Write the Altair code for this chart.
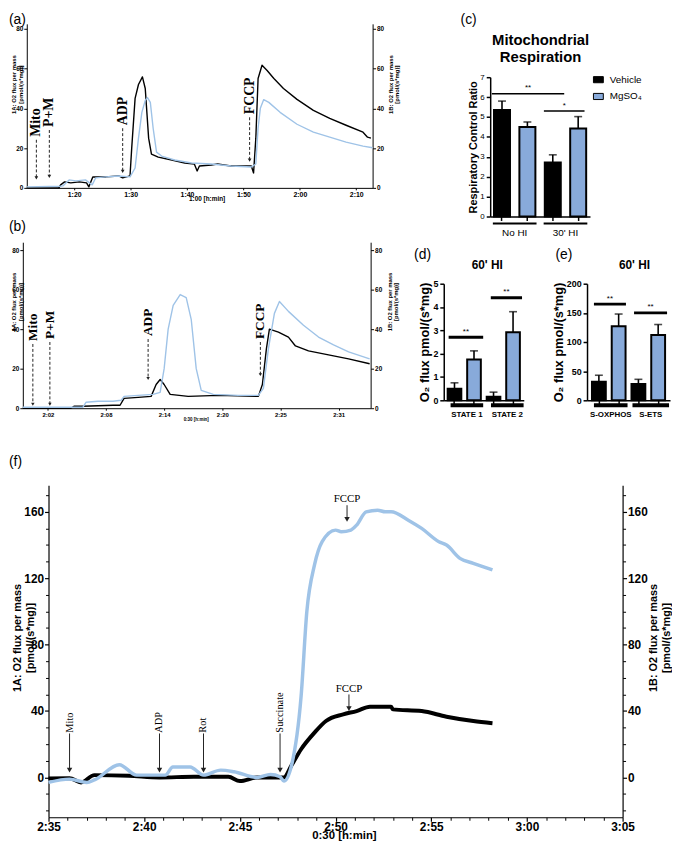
import altair as alt
import pandas as pd

W, H, M = 672, 836, 8
SANS = "Liberation Sans"
SERIF = "Liberation Serif"
LINE_BLUE = "#9fc3e7"
BAR_BLUE = "#88aada"

# ---------------- data: panel (a) ----------------
a_black_t = [71.6, 75, 77.3, 77.6, 78.3, 79.4, 80.9, 82.2, 82.6, 83.3, 85.6, 87.9, 88.6, 89.9, 90.2, 90.8,
             91.4, 92.1, 92.6, 93.2, 93.7, 94.9, 97.3, 99.6, 101.3, 101.8, 102.2, 104.3, 105.4, 107.8, 110.1,
             111.4, 111.8, 112.2, 112.6, 113.3, 114.2, 115.4, 117.1, 119.5, 122.4, 125.3, 128.2, 131.2, 132.0, 132.6]
a_black_v = [0, 0, 0, 1.5, 3, 2.5, 3, 2.5, 0.5, 5.5, 5.5, 6, 5, 6, 20, 45,
             52, 55.8, 50, 25, 17, 15.5, 14, 12.5, 12, 8.5, 11, 11.5, 12, 11, 11,
             11, 7.5, 25, 55, 61.7, 59, 55, 50, 44.5, 39, 35, 31.5, 28, 25.5, 25]
a_blue_t = [71.6, 77.5, 78, 79.1, 80.3, 82, 83.2, 83.8, 85.6, 87.9, 89.9, 90.8, 91.4, 92, 92.6, 93, 93.5,
            94, 94.6, 95.5, 97.8, 100.8, 104.3, 107.8, 111.4, 112.2, 112.6, 113, 113.6, 114.5, 116.5, 119.5,
            122.4, 125.3, 128.2, 131.2, 132.9]
a_blue_v = [0.5, 0.8, 1, 4, 3.5, 4, 1.5, 5, 5.5, 6, 5.5, 10, 25, 38, 44, 45.4, 43,
            30, 18, 16, 14, 12.5, 12, 11, 10.5, 12, 30, 40, 44.4, 43, 38, 32,
            28, 25.5, 23, 21, 20.2]
a_tick_values = [80, 90, 100, 110, 120, 130]
a_ann_labels = ["Mito", "P+M", "ADP", "FCCP"]
a_ann_t = [73.3, 75.6, 88.6, 111.1]
a_ann_text_v = [25.7, 30.6, 31.5, 37]
a_ann_tip_v = [5, 5.8, 8.3, 14]

# ---------------- data: panel (b) ----------------
b_black_t = [119.5, 124.3, 124.6, 125.5, 128.5, 129.2, 129.6, 131, 132.3, 132.8, 133.2, 133.6, 134.2, 136,
             139, 143, 143.4, 143.8, 144.1, 145, 146, 146.7, 148, 150, 152, 154.1]
b_black_v = [0, 0, 1, 1, 1.5, 1.5, 5, 5.5, 6, 12, 14.5, 12, 7, 6,
             6.5, 6, 12, 30, 40, 38.5, 36, 31.5, 29, 27, 25, 22.5]
b_blue_t = [119.5, 125.5, 125.8, 127, 128.5, 129.3, 129.6, 131, 132.5, 133.2, 133.6, 134, 134.5, 135.2,
            135.8, 136.3, 136.8, 137.3, 138.5, 141, 143, 143.5, 144, 144.6, 145.1, 146, 147.5, 149, 150.5,
            152, 154.1]
b_blue_v = [0.5, 0.5, 3, 3.5, 3.5, 4, 6, 6.5, 7, 8, 20, 40, 52, 57.5,
            56, 45, 20, 9, 7, 6.5, 6.5, 10, 30, 48, 54, 49, 42, 36, 32,
            28.5, 25]
b_tick_values = [122, 127.8, 133.6, 139.4, 145.2, 151.0]
b_tick_labels = ["2:02", "2:08", "2:14", "2:20", "2:25", "2:31"]
b_ann_labels = ["Mito", "P+M", "ADP", "FCCP"]
b_ann_t = [120.5, 122.2, 132.0, 143.2]
b_ann_text_v = [34, 35, 36.5, 35]
b_ann_tip_v = [2, 2, 15, 17]

# ---------------- data: panel (c) ----------------
c_groups = ["No HI", "30' HI"]
c_treat = ["Vehicle", "MgSO₄"]
c_mean = [5.35, 4.5, 2.72, 4.42]
c_sem = [0.45, 0.25, 0.38, 0.6]
c_sig_text = ["**", "*"]
c_sig_level = [6.17, 5.3]

# ---------------- data: panel (d) ----------------
d_groups = ["STATE 1", "STATE 2"]
d_mean = [0.5, 1.75, 0.15, 2.92]
d_sem = [0.25, 0.37, 0.2, 0.88]
d_sig_text = ["**", "**"]
d_sig_level = [2.7, 4.4]

# ---------------- data: panel (e) ----------------
e_groups = ["S-OXPHOS", "S-ETS"]
e_mean = [32, 127, 28, 112]
e_sem = [11, 21, 8, 18]
e_sig_text = ["**", "**"]
e_sig_level = [165, 150]

# ---------------- data: panel (f) ----------------
f_blue_t = [155, 156.1, 157, 157.4, 158.7, 159.6, 160.8, 161.1, 161.5, 162.4, 163.1, 164.0, 164.7, 165.9,
            166.6, 167.1, 167.3, 167.7, 168.2, 168.5, 168.9, 169.3, 170.0, 170.3, 170.8, 171.1, 171.6,
            172.2, 172.6, 172.9, 173.8, 174.5, 175.4, 175.8, 176.5, 177.2, 178.2]
f_blue_v = [-3, -1, -3, -1.5, 7.7, 1.4, 1.4, 1.4, 6.3, 6.3, 1.4, 4.4, 3.4, 0,
            1.8, 0.4, -2.2, 7.3, 49, 100, 128, 142, 149, 148, 149, 152, 160,
            161, 160, 160, 155, 150, 142, 140, 132, 129, 125]
f_black_t = [155, 156.1, 156.7, 157.4, 159.2, 160.8, 162.6, 164.4, 165.0, 165.9, 167.3, 167.7, 168.2,
             168.9, 169.5, 170.4, 171.1, 171.8, 172.9, 173.0, 174.5, 175.8, 177.2, 178.2]
f_black_v = [-0.6, -0.5, -3, 1.4, 1, 0, 0.4, 0.4, -2.2, 0, 0, 7.3, 17,
             27, 34, 38, 40, 42.6, 42.6, 41, 40, 36.6, 34, 32.7]
f_tick_values = [155, 160, 165, 170, 175, 180, 185]
f_ann_labels = ["Mito", "ADP", "Rot", "Succinate"]
f_ann_t = [156.1, 160.8, 163.1, 167.1]
f_ann_text_v = [27, 27, 27, 27]
f_ann_tip_v = [4.4, 4.4, 4.4, 4.4]
f_fccp_t = [170.6, 170.7]
f_fccp_text_v = [168, 53]
f_fccp_top_v = [164, 50]
f_fccp_tip_v = [155.5, 41.5]

TIME_EXPR = ("floor(datum.value / 60) + ':' + (round(datum.value % 60) < 10 ? '0' : '') "
             "+ round(datum.value % 60)")
B_EXPR = "[" + ",".join("'%s'" % s for s in b_tick_labels) + "][round((datum.value - 122) / 5.8)]"


def sc(domain, r0, r1):
    return alt.Scale(domain=domain, range=[r0 - M, r1 - M], nice=False, zero=False)


def band(domain, r0, r1, pi, po):
    return alt.Scale(domain=domain, range=[r0 - M, r1 - M], paddingInner=pi, paddingOuter=po)


def idx_scale(r0, r1, pi, po, n=4):
    step = (r1 - r0) / (n - pi + 2 * po)
    c0 = r0 + po * step + (1 - pi) * step / 2
    return sc([-0.5, n - 0.5], c0 - 0.5 * step, c0 + (n - 0.5) * step)


def ax(orient, at, **kw):
    p = at - M
    off = {"left": -p, "right": p - W, "bottom": p - H, "top": -p}[orient]
    d = dict(orient=orient, offset=off, grid=False, title=None, labelFont=SANS,
             titleFont=SANS, domainColor="black", tickColor="black",
             labelColor="black", titleColor="black", labelFlush=False)
    d.update(kw)
    return alt.Axis(**d)


def line_layer(t, v, xs, ys, color, width, xaxis=None, yaxis=None, interp="linear"):
    df = pd.DataFrame({"t": t, "v": v})
    return alt.Chart(df).mark_line(color=color, strokeWidth=width, strokeJoin="round",
                                   interpolate=interp).encode(
        x=alt.X("t:Q", scale=xs, axis=xaxis),
        y=alt.Y("v:Q", scale=ys, axis=yaxis),
    )


def annotations(labels, t, text_v, tip_v, xs, ys, size, weight, dashed, head_size, gap):
    df = pd.DataFrame({"label": labels, "t": t, "ty": text_v, "tip": tip_v})
    df["top"] = df["ty"] - gap
    X = alt.X("t:Q", scale=xs, axis=None)
    txt = alt.Chart(df).mark_text(angle=270, align="left", baseline="middle", font=SERIF,
                                  fontSize=size, fontWeight=weight, color="black").encode(
        x=X, y=alt.Y("ty:Q", scale=ys, axis=None), text="label:N")
    rule_kw = dict(color="#222", strokeWidth=1)
    if dashed:
        rule_kw["strokeDash"] = [3, 2]
    rule = alt.Chart(df).mark_rule(**rule_kw).encode(
        x=X, y=alt.Y("top:Q", scale=ys, axis=None), y2=alt.Y2("tip"))
    head = alt.Chart(df).mark_point(shape="triangle-down", filled=True, size=head_size,
                                    color="#222", opacity=1).encode(
        x=X, y=alt.Y("tip:Q", scale=ys, axis=None))
    return [rule, head, txt]


def fixed_text(s, x, y, size, weight="normal", align="left", baseline="top", font=SANS):
    return alt.Chart(pd.DataFrame({"s": [s]})).mark_text(
        fontSize=size, fontWeight=weight, align=align, baseline=baseline, font=font,
        color="black").encode(text="s:N", x=alt.value(x - M), y=alt.value(y - M))


layers = []

# ======================= panel (a) =======================
xa = sc([71.6, 132.9], 27, 377)
ya = sc([0, 82.5], 185, 19)
small = dict(labelFontSize=6.5, labelFontWeight="bold", tickSize=3, labelPadding=1,
             domainWidth=1, tickWidth=1)
ttl_a = dict(titleFontSize=6, titleFontWeight="bold", titleAngle=270, titleAlign="center",
             titleBaseline="middle", titleLineHeight=6.5)
layers.append(line_layer(
    a_black_t, a_black_v, xa, ya, "black", 1.4,
    xaxis=ax("bottom", 185, values=a_tick_values, labelExpr=TIME_EXPR, labelFontSize=7,
             labelFontWeight="bold", tickSize=2, labelPadding=1, title="1:00 [h:min]",
             titleFontSize=6.5, titleFontWeight="bold", titleX=201, titleY=10.5,
             titleAlign="center", titleBaseline="middle"),
    yaxis=ax("left", 27, values=[0, 20, 40, 60, 80], **small,
             title=["1A: O2 flux per mass", "[pmol/(s*mg)]"], titleX=-13, titleY=72, **ttl_a)))
layers.append(line_layer(
    a_blue_t, a_blue_v, xa, ya, LINE_BLUE, 1.4,
    yaxis=ax("right", 377, values=[0, 20, 40, 60, 80], **small,
             title=["1B: O2 flux per mass", "[pmol/(s*mg)]"], titleX=18, titleY=72, **ttl_a)))
layers += annotations(a_ann_labels, a_ann_t, a_ann_text_v, a_ann_tip_v, xa, ya, 14, "bold",
                      True, 14, 1.5)

# ======================= panel (b) =======================
xb = sc([119.5, 154.2], 23, 375)
yb = sc([0, 84], 408, 240)
layers.append(line_layer(
    b_black_t, b_black_v, xb, yb, "black", 1.4,
    xaxis=ax("bottom", 408, values=b_tick_values, labelExpr=B_EXPR, labelFontSize=6,
             labelFontWeight="bold", tickSize=2, labelPadding=1, title="0:30 [h:min]",
             titleFontSize=4.5, titleFontWeight="bold", titleX=190, titleY=11,
             titleAlign="center", titleBaseline="middle"),
    yaxis=ax("left", 23, values=[0, 20, 40, 60, 80], **small,
             title=["1A: O2 flux per mass", "[pmol/(s*mg)]"], titleX=-9, titleY=292, **ttl_a)))
layers.append(line_layer(
    b_blue_t, b_blue_v, xb, yb, LINE_BLUE, 1.4,
    yaxis=ax("right", 375, values=[0, 20, 40, 60, 80], **small,
             title=["1B: O2 flux per mass", "[pmol/(s*mg)]"], titleX=19, titleY=292, **ttl_a)))
layers += annotations(b_ann_labels, b_ann_t, b_ann_text_v, b_ann_tip_v, xb, yb, 13.5, "bold",
                      True, 12, 1.5)

# ======================= bar panels (c), (d), (e) =======================
COLOR = alt.Scale(domain=c_treat, range=["black", BAR_BLUE])
RECT = "M-1,-0.62L1,-0.62L1,0.62L-1,0.62Z"
LEG = alt.Legend(orient="none", legendX=592, legendY=62, title=None, labelFont=SANS,
                 labelFontSize=10, symbolType=RECT, symbolSize=100, symbolStrokeColor="black",
                 symbolStrokeWidth=1, rowPadding=6, labelOffset=6, padding=0, symbolOpacity=1)


def bar_panel(groups, means, sems, brange, ydom, y0, y1, yvals, ytitle, ylab, ytitle_size,
              sig_from, sig_to, sig_level, sig_text, sig_w, ul_from, ul_to, ul_y, ul_w,
              lab_y, lab_size, lab_weight):
    r0, r1, pi, po = brange
    cats = [g + " | " + t for g in groups for t in c_treat]
    df = pd.DataFrame({"cat": cats, "treat": [t for g in groups for t in c_treat],
                       "mean": means, "top": [m + s for m, s in zip(means, sems)]})
    xs = band(cats, r0, r1, pi, po)
    ys = sc(ydom, y0, y1)
    xi = idx_scale(r0, r1, pi, po)
    out = []
    out.append(alt.Chart(df).mark_bar(stroke="black", strokeWidth=2).encode(
        x=alt.X("cat:N", scale=xs,
                axis=ax("bottom", y0, labels=False, tickSize=4, domainWidth=1.5, tickWidth=1.5,
                        bandPosition=0.5)),
        y=alt.Y("mean:Q", scale=ys,
                axis=ax("left", r0, values=yvals, labelFontSize=ylab[0], labelFontWeight=ylab[1],
                        tickSize=4, domainWidth=1.5, tickWidth=1.5, labelPadding=2,
                        title=ytitle, titleFontSize=ytitle_size, titleFontWeight="bold",
                        titlePadding=1)),
        color=alt.Color("treat:N", scale=COLOR, legend=LEG)))
    out.append(alt.Chart(df).mark_rule(color="black", strokeWidth=1.6).encode(
        x=alt.X("cat:N", scale=xs, axis=None),
        y=alt.Y("mean:Q", scale=ys, axis=None), y2=alt.Y2("top")))
    out.append(alt.Chart(df).mark_tick(color="black", thickness=1.6, size=8,
                                       orient="horizontal").encode(
        x=alt.X("cat:N", scale=xs, axis=None),
        y=alt.Y("top:Q", scale=ys, axis=None)))
    sig = pd.DataFrame({"x0": sig_from, "x1": sig_to, "lvl": sig_level, "txt": sig_text})
    sig["xm"] = (sig["x0"] + sig["x1"]) / 2
    out.append(alt.Chart(sig).mark_rule(color="black", strokeWidth=sig_w).encode(
        x=alt.X("x0:Q", scale=xi, axis=None), x2=alt.X2("x1"),
        y=alt.Y("lvl:Q", scale=ys, axis=None)))
    out.append(alt.Chart(sig).mark_text(fontSize=8, font=SANS, baseline="bottom", dy=-1.5,
                                        color="black").encode(
        x=alt.X("xm:Q", scale=xi, axis=None),
        y=alt.Y("lvl:Q", scale=ys, axis=None), text="txt:N"))
    ul = pd.DataFrame({"g": groups, "u0": ul_from, "u1": ul_to})
    ul["um"] = (ul["u0"] + ul["u1"]) / 2
    out.append(alt.Chart(ul).mark_rule(color="black", strokeWidth=ul_w).encode(
        x=alt.X("u0:Q", scale=xi, axis=None), x2=alt.X2("u1"), y=alt.value(ul_y - M)))
    out.append(alt.Chart(ul).mark_text(fontSize=lab_size, fontWeight=lab_weight, font=SANS,
                                       baseline="middle", color="black").encode(
        x=alt.X("um:Q", scale=xi, axis=None), y=alt.value(lab_y - M), text="g:N"))
    return out


layers += bar_panel(c_groups, c_mean, c_sem, (496, 597, 0.37, 0.15), [0, 7], 214, 73,
                    list(range(8)), "Respiratory Control Ratio", (8, "normal"), 11,
                    [-0.4, 1.65], [2.45, 3.25], c_sig_level, c_sig_text, 1.6,
                    [-0.36, 1.64], [1.36, 3.36], 221, 2, 231, 10, "normal")
layers += bar_panel(d_groups, d_mean, d_sem, (449, 530, 0.3, 0.2), [0, 5], 400, 282,
                    [0, 1, 2, 3, 4, 5], "O₂ flux pmol/(s*mg)", (9, "bold"), 13,
                    [-0.3, 1.86], [1.47, 3.46], d_sig_level, d_sig_text, 3,
                    [-0.2, 1.87], [1.47, 3.54], 405, 4, 415, 8, "bold")
layers += bar_panel(e_groups, e_mean, e_sem, (594, 678, 0.3, 0.25), [0, 200], 400, 282,
                    [0, 50, 100, 150, 200], "O₂ flux pmol/(s*mg)", (9, "bold"), 13,
                    [-0.25, 1.78], [1.37, 3.45], e_sig_level, e_sig_text, 3,
                    [-0.25, 1.7], [1.45, 3.55], 405, 4, 415, 8, "bold")

# ======================= panel (f) =======================
xf = sc([155, 185], 49, 630)
yf = sc([-24, 176], 822, 486)
big = dict(labelFontSize=12, labelFontWeight="bold", tickSize=4, labelPadding=1,
           domainWidth=1.2, tickWidth=1.2)
ttl_f = dict(titleFontSize=11, titleFontWeight="bold", titleAngle=270, titleAlign="center",
             titleBaseline="middle", titleLineHeight=13)
layers.append(line_layer(
    f_black_t, f_black_v, xf, yf, "black", 4,
    xaxis=ax("bottom", 822, values=f_tick_values, labelExpr=TIME_EXPR,
             labelFontSize=12, labelFontWeight="bold", tickSize=4, labelPadding=0,
             domainWidth=1.2, tickWidth=1.2,
             title="0:30 [h:min]", titleFontSize=11.5, titleFontWeight="bold", titleX=340,
             titleY=18, titleAlign="center", titleBaseline="middle"),
    yaxis=ax("left", 49, values=[0, 40, 80, 120, 160], **big,
             title=["1A: O2 flux per mass", "[pmol/(s*mg)]"], titleX=-31, titleY=632, **ttl_f),
    interp="monotone"))
layers.append(line_layer(
    f_blue_t, f_blue_v, xf, yf, LINE_BLUE, 3.5,
    yaxis=ax("right", 630, values=[0, 40, 80, 120, 160], **big,
             title=["1B: O2 flux per mass", "[pmol/(s*mg)]"], titleX=31, titleY=632, **ttl_f),
    interp="monotone"))
# minor ticks
minor_x = [v for v in range(156, 185) if v % 5 != 0]
minor_y = [v for v in range(-20, 171, 10) if v % 40 != 0]
layers.append(line_layer(
    f_black_t, f_black_v, xf, yf, "black", 0,
    xaxis=ax("bottom", 822, values=minor_x, labels=False, domain=False, tickSize=3, tickWidth=1),
    yaxis=ax("left", 49, values=minor_y, labels=False, domain=False, tickSize=3, tickWidth=1)))
layers.append(line_layer(
    f_black_t, f_black_v, xf, yf, "black", 0,
    yaxis=ax("right", 630, values=minor_y, labels=False, domain=False, tickSize=3, tickWidth=1)))
layers += annotations(f_ann_labels, f_ann_t, f_ann_text_v, f_ann_tip_v, xf, yf, 10.5, "normal",
                      False, 30, 0.5)
fccp = pd.DataFrame({"label": ["FCCP", "FCCP"], "t": f_fccp_t, "ty": f_fccp_text_v,
                     "top": f_fccp_top_v, "tip": f_fccp_tip_v})
FX = alt.X("t:Q", scale=xf, axis=None)
layers.append(alt.Chart(fccp).mark_text(font=SERIF, fontSize=11, baseline="middle",
                                        color="black").encode(
    x=FX, y=alt.Y("ty:Q", scale=yf, axis=None), text="label:N"))
layers.append(alt.Chart(fccp).mark_rule(color="#222", strokeWidth=1).encode(
    x=FX, y=alt.Y("top:Q", scale=yf, axis=None), y2=alt.Y2("tip")))
layers.append(alt.Chart(fccp).mark_point(shape="triangle-down", filled=True, size=30,
                                         color="#222", opacity=1).encode(
    x=FX, y=alt.Y("tip:Q", scale=yf, axis=None)))

# ======================= labels and titles =======================
layers.append(fixed_text("(a)", 9, 8, 14))
layers.append(fixed_text("(b)", 9, 218, 14))
layers.append(fixed_text("(c)", 466, 8, 14))
layers.append(fixed_text("(d)", 419, 246, 14))
layers.append(fixed_text("(e)", 562, 246, 14))
layers.append(fixed_text("(f)", 9, 455, 14))
layers.append(fixed_text("Mitochondrial", 547, 35, 15, "bold", "center", "middle"))
layers.append(fixed_text("Respiration", 547, 53, 15, "bold", "center", "middle"))
layers.append(fixed_text("60' HI", 493, 263, 12, "bold", "center", "middle"))
layers.append(fixed_text("60' HI", 642, 263, 12, "bold", "center", "middle"))

chart = alt.layer(*layers).resolve_scale(x="independent", y="independent").properties(
    width=W, height=H, autosize=alt.AutoSizeParams(type="none"), padding=0,
    background="white").configure_view(stroke=None)

chart.save("out.html", embed_options={"renderer": "svg", "actions": False})
